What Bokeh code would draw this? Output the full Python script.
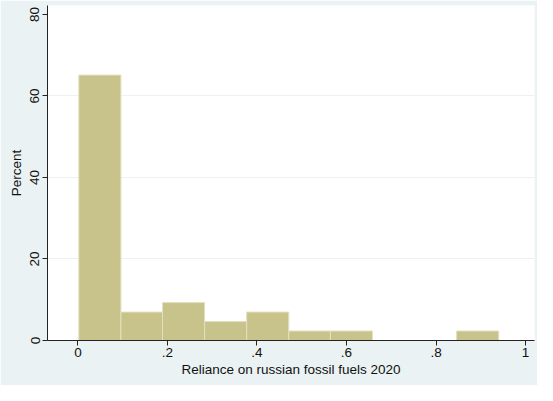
from bokeh.plotting import figure
from bokeh.models import FixedTicker, Range1d
from bokeh.embed import file_html
from bokeh.resources import INLINE

# Histogram data (percent of countries per bin)
bin_edges = [0.002, 0.096, 0.189, 0.283, 0.377, 0.471, 0.564, 0.658, 0.752, 0.846, 0.940]
percent = [65.12, 6.98, 9.30, 4.65, 6.98, 2.33, 2.33, 0.0, 0.0, 2.33]
x_ticks = [0, 0.2, 0.4, 0.6, 0.8, 1.0]
x_tick_labels = ["0", ".2", ".4", ".6", ".8", "1"]
y_ticks = [0, 20, 40, 60, 80]
y_grid = [20, 40, 60]

BG = "#eaf2f3"
FONT = "Liberation Sans"

p = figure(width=537, height=385, output_backend="svg", toolbar_location=None,
           x_range=Range1d(-0.068, 1.020), y_range=Range1d(0, 82.2))
p.min_border_left = 47
p.min_border_right = 3
p.min_border_top = 5
p.min_border_bottom = 45
p.background_fill_color = "white"
p.border_fill_color = BG
p.outline_line_color = None

lefts = bin_edges[:-1]
rights = bin_edges[1:]
p.quad(left=lefts, right=rights, bottom=[0] * len(percent), top=percent,
       fill_color="#c7c38b", line_color="#e3e0bf", line_width=1)

p.xgrid.visible = False
p.ygrid.ticker = FixedTicker(ticks=y_grid)
p.ygrid.grid_line_color = BG
p.ygrid.grid_line_width = 1.2

p.xaxis.ticker = FixedTicker(ticks=x_ticks)
p.xaxis.major_label_overrides = {t: l for t, l in zip(x_ticks, x_tick_labels)}
p.yaxis.ticker = FixedTicker(ticks=y_ticks)

for ax in (p.xaxis[0], p.yaxis[0]):
    ax.axis_line_color = "#222222"
    ax.major_tick_line_color = "#222222"
    ax.major_tick_out = 5
    ax.major_tick_in = 0
    ax.minor_tick_line_color = None
    ax.major_label_text_font = FONT
    ax.major_label_text_font_size = "13.5px"
    ax.major_label_text_color = "#111111"
    ax.axis_label_text_font = FONT
    ax.axis_label_text_font_size = "13.5px"
    ax.axis_label_text_font_style = "normal"
    ax.axis_label_text_color = "#111111"

p.yaxis.major_label_orientation = "vertical"
p.xaxis.axis_label = "Reliance on russian fossil fuels 2020"
p.yaxis.axis_label = "Percent"
p.xaxis.major_label_standoff = 2
p.xaxis.axis_label_standoff = 2
p.yaxis.major_label_standoff = 3
p.yaxis.axis_label_standoff = 4

open("out.html", "w").write(file_html(p, INLINE))
